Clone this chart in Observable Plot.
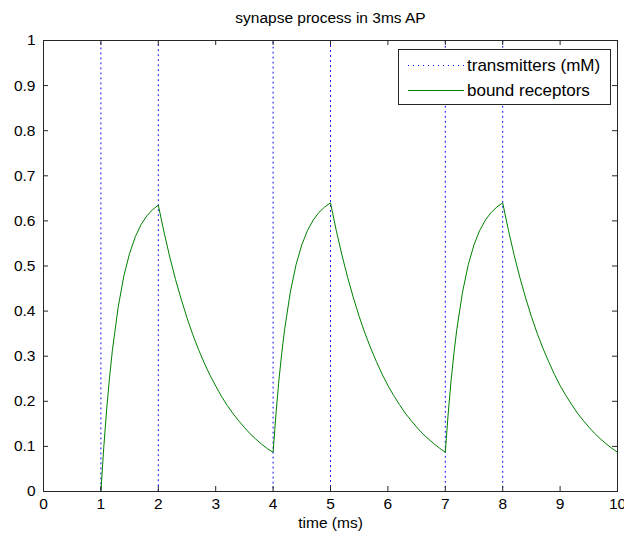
<!DOCTYPE html>
<html><head><meta charset="utf-8">
<script src="https://cdn.jsdelivr.net/npm/d3@7"></script>
<script src="https://cdn.jsdelivr.net/npm/@observablehq/plot@0.6"></script>
<style>body{margin:0;background:#fff} #chart{position:relative;width:624px;height:538px}</style>
</head><body><div id="chart"></div>
<script>
const title = "synapse process in 3ms AP";
const xLabel = "time (ms)";
const xTicks = [0, 1, 2, 3, 4, 5, 6, 7, 8, 9, 10];
const yTicks = [0, 0.1, 0.2, 0.3, 0.4, 0.5, 0.6, 0.7, 0.8, 0.9, 1];
const seriesNames = ["transmitters (mM)", "bound receptors"];

const transmitterTime  = [0, 1, 1, 2, 2, 4, 4, 5, 5, 7, 7, 8, 8, 10];
const transmitterValue = [0, 0, 1, 1, 0, 0, 1, 1, 0, 0, 1, 1, 0, 0];

const receptorTime = [
  0, 1, 1.05, 1.1, 1.15, 1.2, 1.3, 1.4, 1.5, 1.6, 1.7, 1.8, 1.9, 2.0,
  2.1, 2.2, 2.3, 2.4, 2.5, 2.6, 2.7, 2.8, 2.9, 3.0, 3.1, 3.2, 3.3, 3.4, 3.5, 3.6, 3.7, 3.8, 3.9, 4.0,
  4.05, 4.1, 4.15, 4.2, 4.3, 4.4, 4.5, 4.6, 4.7, 4.8, 4.9, 5.0,
  5.1, 5.2, 5.3, 5.4, 5.5, 5.6, 5.7, 5.8, 5.9, 6.0, 6.1, 6.2, 6.3, 6.4, 6.5, 6.6, 6.7, 6.8, 6.9, 7.0,
  7.05, 7.1, 7.15, 7.2, 7.3, 7.4, 7.5, 7.6, 7.7, 7.8, 7.9, 8.0,
  8.1, 8.2, 8.3, 8.4, 8.5, 8.6, 8.7, 8.8, 8.9, 9.0, 9.1, 9.2, 9.3, 9.4, 9.5, 9.6, 9.7, 9.8, 9.9, 10.0
];
const receptorValue = [
  0, 0, 0.098, 0.181, 0.252, 0.313, 0.408, 0.478, 0.528, 0.565, 0.592, 0.611, 0.625, 0.635,
  0.575, 0.520, 0.470, 0.426, 0.385, 0.348, 0.315, 0.285, 0.258, 0.234, 0.211, 0.191, 0.173, 0.157, 0.142, 0.128, 0.116, 0.105, 0.095, 0.087,
  0.172, 0.245, 0.306, 0.359, 0.442, 0.503, 0.547, 0.579, 0.602, 0.619, 0.631, 0.640,
  0.579, 0.524, 0.474, 0.429, 0.388, 0.351, 0.318, 0.288, 0.260, 0.235, 0.213, 0.193, 0.174, 0.158, 0.143, 0.129, 0.117, 0.106, 0.096, 0.087,
  0.172, 0.245, 0.306, 0.359, 0.442, 0.503, 0.547, 0.579, 0.602, 0.619, 0.631, 0.640,
  0.579, 0.524, 0.474, 0.429, 0.388, 0.351, 0.318, 0.288, 0.260, 0.235, 0.213, 0.193, 0.174, 0.158, 0.143, 0.129, 0.117, 0.106, 0.096, 0.087
];

const transmitters = transmitterTime.map((t, i) => ({t, v: transmitterValue[i]}));
const receptors = receptorTime.map((t, i) => ({t, v: receptorValue[i]}));

const W = 624, H = 538, mL = 43, mR = 7, mT = 40, mB = 47;
const tickLen = 5;
const xPerPx = 10 / (W - mL - mR);
const yPerPx = 1 / (H - mT - mB);
const axisColor = "#262626";
const font = "'Liberation Sans', Arial, sans-serif";
const fs = 15.5;
const dotted = "1,4";

const plot = Plot.plot({
  width: W, height: H,
  marginLeft: mL, marginRight: mR, marginTop: mT, marginBottom: mB,
  style: {fontFamily: font, fontSize: fs + "px", background: "#fff", color: "#000", overflow: "visible"},
  x: {domain: [0, 10]},
  y: {domain: [0, 1]},
  marks: [
    Plot.line(transmitters, {x: "t", y: "v", stroke: "#0000ff", strokeWidth: 1, strokeDasharray: dotted}),
    Plot.line(receptors, {x: "t", y: "v", stroke: "#008000", strokeWidth: 1}),
    Plot.frame({stroke: axisColor, strokeWidth: 1}),
    Plot.ruleX(xTicks, {x: d => d, y1: 0, y2: tickLen * yPerPx, stroke: axisColor}),
    Plot.ruleX(xTicks, {x: d => d, y1: 1, y2: 1 - tickLen * yPerPx, stroke: axisColor}),
    Plot.ruleY(yTicks, {y: d => d, x1: 0, x2: tickLen * xPerPx, stroke: axisColor}),
    Plot.ruleY(yTicks, {y: d => d, x1: 10, x2: 10 - tickLen * xPerPx, stroke: axisColor}),
    Plot.axisX({ticks: xTicks, tickSize: 0, tickPadding: 6, label: null, fontSize: fs, tickFormat: d => String(d)}),
    Plot.axisY({ticks: yTicks, tickSize: 0, tickPadding: 8, label: null, fontSize: fs, tickFormat: d => String(+d.toFixed(1))}),
    Plot.text([title], {text: d => d, frameAnchor: "top", dy: -22, lineAnchor: "middle", fontSize: fs}),
    Plot.text([xLabel], {text: d => d, frameAnchor: "bottom", dy: 32, lineAnchor: "middle", fontSize: fs})
  ]
});
document.getElementById("chart").appendChild(plot);

// legend inside the axes (top-right)
const svg = d3.select(plot);
const lg = svg.append("g").attr("font-family", font).attr("font-size", 17).attr("text-anchor", "start");
lg.append("rect").attr("x", 398.5).attr("y", 49.5).attr("width", 212).attr("height", 55)
  .attr("fill", "#fff").attr("stroke", axisColor);
const rows = [
  {name: seriesNames[0], stroke: "#0000ff", dash: dotted, y: 65},
  {name: seriesNames[1], stroke: "#008000", dash: null, y: 90}
];
rows.forEach(r => {
  lg.append("line").attr("x1", 408).attr("x2", 464).attr("y1", r.y + 0.5).attr("y2", r.y + 0.5)
    .attr("stroke", r.stroke).attr("stroke-dasharray", r.dash);
  lg.append("text").attr("x", 467).attr("y", r.y).attr("dy", "0.35em").attr("text-anchor", "start").text(r.name);
});
</script>
</body></html>
